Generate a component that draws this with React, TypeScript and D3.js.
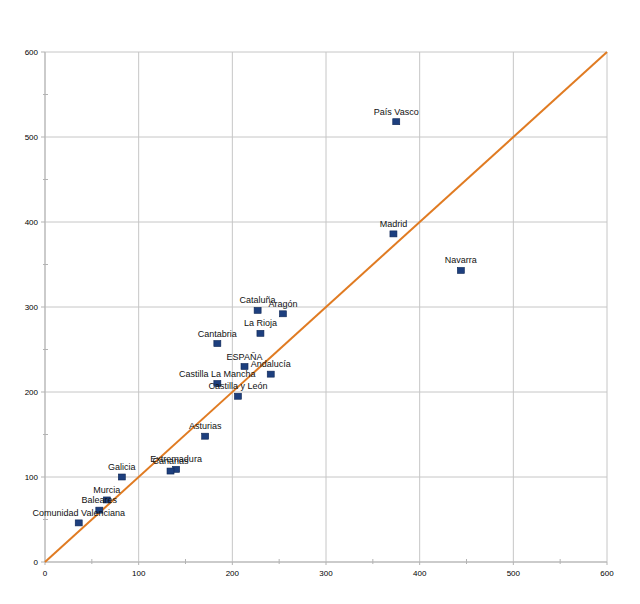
import React from "react";
import * as d3 from "d3";

// regions: x = first index, y = second index
const regions = [
  "País Vasco",
  "Madrid",
  "Navarra",
  "Cataluña",
  "Aragón",
  "La Rioja",
  "Cantabria",
  "ESPAÑA",
  "Andalucía",
  "Castilla La Mancha",
  "Castilla y León",
  "Asturias",
  "Extremadura",
  "Canarias",
  "Galicia",
  "Murcia",
  "Baleares",
  "Comunidad Valenciana",
];
const xValues = [375, 372, 444, 227, 254, 230, 184, 213, 241, 184, 206, 171, 140, 134, 82, 66, 58, 36];
const yValues = [518, 386, 343, 296, 292, 269, 257, 230, 221, 210, 195, 148, 109, 107, 100, 73, 61, 46];
const majorTicks = [0, 100, 200, 300, 400, 500, 600];
const minorTicks = [50, 150, 250, 350, 450, 550];
const refLine = [0, 600];

const width = 640;
const height = 604;
const margin = { top: 52, right: 33, bottom: 42, left: 45 };

const App = () => {
  const x = d3.scaleLinear().domain([0, 600]).range([margin.left, width - margin.right]);
  const y = d3.scaleLinear().domain([0, 600]).range([height - margin.bottom, margin.top]);

  const line = d3
    .line<number>()
    .x((d) => x(d))
    .y((d) => y(d));

  const points = regions.map((name, i) => ({ name, vx: xValues[i], vy: yValues[i] }));
  const font = "'Liberation Sans', Arial, sans-serif";
  const gridColor = "#c6c6c6";

  return (
    <svg
      width={width}
      height={height}
      style={{ position: "absolute", left: 0, top: 0, background: "#fff" }}
      fontFamily={font}
    >
      {/* grid */}
      {majorTicks.map((t) => (
        <g key={"g" + t}>
          <line x1={x(t)} x2={x(t)} y1={y(0)} y2={y(600)} stroke={gridColor} strokeWidth={1} />
          <line x1={x(0)} x2={x(600)} y1={y(t)} y2={y(t)} stroke={gridColor} strokeWidth={1} />
        </g>
      ))}
      {/* axis ticks */}
      {majorTicks.map((t) => (
        <g key={"t" + t}>
          <line x1={x(0) - 4} x2={x(0)} y1={y(t)} y2={y(t)} stroke="#b3b3b3" />
          <line x1={x(t)} x2={x(t)} y1={y(0)} y2={y(0) + 3} stroke="#b3b3b3" />
          <text x={x(0) - 7} y={y(t) + 3} textAnchor="end" fontSize={8} fill="#000">
            {t}
          </text>
          <text x={x(t)} y={y(0) + 14} textAnchor="middle" fontSize={8} fill="#000">
            {t}
          </text>
        </g>
      ))}
      {minorTicks.map((t) => (
        <g key={"m" + t}>
          <line x1={x(0) - 2} x2={x(0) + 3} y1={y(t)} y2={y(t)} stroke="#b3b3b3" />
          <line x1={x(t)} x2={x(t)} y1={y(0) - 3} y2={y(0) + 2} stroke="#b3b3b3" />
        </g>
      ))}
      <line x1={x(0)} x2={x(0)} y1={y(0)} y2={y(600)} stroke="#b3b3b3" />
      <line x1={x(0)} x2={x(600)} y1={y(0)} y2={y(0)} stroke="#b3b3b3" />

      {/* reference line y = x */}
      <path d={line(refLine) || ""} stroke="#e07b22" strokeWidth={2} fill="none" />

      {/* points */}
      {points.map((p) => (
        <g key={p.name}>
          <rect
            x={x(p.vx) - 3.5}
            y={y(p.vy) - 3}
            width={7}
            height={6}
            fill="#1d3f7e"
            stroke="#0e2654"
            strokeWidth={0.6}
          />
        </g>
      ))}
      {points.map((p) => (
        <text
          key={"l" + p.name}
          x={x(p.vx)}
          y={y(p.vy) - 7}
          textAnchor="middle"
          fontSize={9}
          fill="#111"
        >
          {p.name}
        </text>
      ))}
    </svg>
  );
};

export default App;
